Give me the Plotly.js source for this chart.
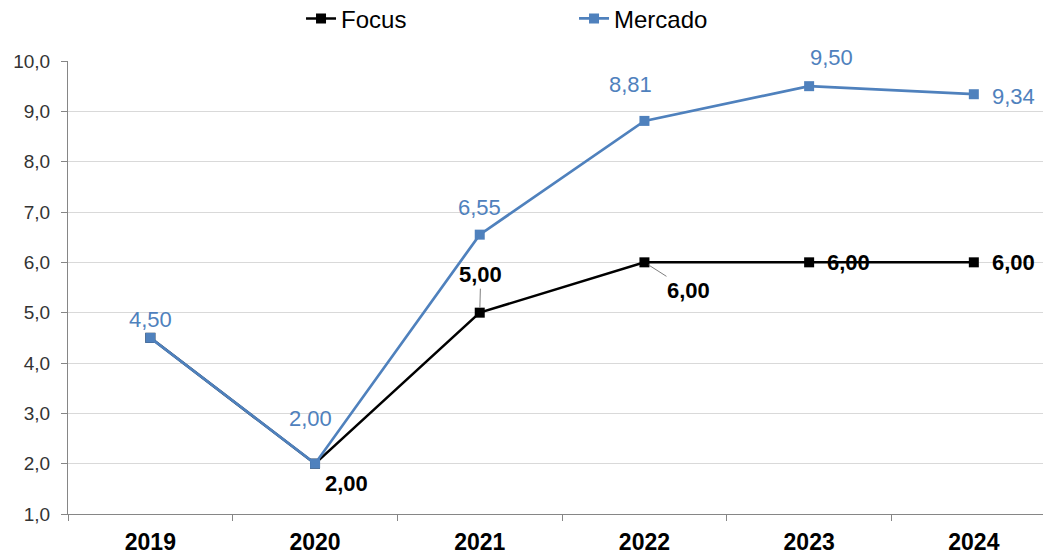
<!DOCTYPE html>
<html>
<head>
<meta charset="utf-8">
<script src="https://cdn.plot.ly/plotly-3.0.1.min.js"></script>
<style>html,body{margin:0;padding:0;background:#fff;}#chart{width:1043px;height:554px;}</style>
</head>
<body>
<div id="chart"></div>
<script>
const years = ['2019', '2020', '2021', '2022', '2023', '2024'];
const focus = [4.50, 2.00, 5.00, 6.00, 6.00, 6.00];
const mercado = [4.50, 2.00, 6.55, 8.81, 9.50, 9.34];
const yTicks = [1, 2, 3, 4, 5, 6, 7, 8, 9, 10];

const BLUE = '#4F81BD';
const FONT = 'Liberation Sans, Arial, sans-serif';

function fmt(v) { return v.toFixed(2).replace('.', ','); }

const traces = [
  {
    x: years, y: focus, name: 'Focus', type: 'scatter', mode: 'lines+markers',
    line: {color: '#000000', width: 2.5},
    marker: {symbol: 'square', size: 10, color: '#000000'}
  },
  {
    x: years, y: mercado, name: 'Mercado', type: 'scatter', mode: 'lines+markers',
    line: {color: BLUE, width: 2.7},
    marker: {symbol: 'square', size: 10, color: BLUE}
  }
];

// label offsets (pixels) per point
const mercadoOff = [[0, 18], [-5, 45], [0, 27], [-14, 36], [22, 29], [40, -2]];
const focusOff = [null, [31, -20], null, null, [39, 0], [40, 0]];

// category axis: annotations are placed by category index
const annotations = [];
mercado.forEach((v, i) => {
  const o = mercadoOff[i];
  annotations.push({
    x: years.indexOf(years[i]), y: v, xref: 'x', yref: 'y', text: fmt(v), showarrow: false,
    xshift: o[0], yshift: o[1],
    font: {family: FONT, size: 22, color: BLUE}
  });
});
focus.forEach((v, i) => {
  const o = focusOff[i];
  if (!o) return;
  annotations.push({
    x: years.indexOf(years[i]), y: v, xref: 'x', yref: 'y', text: '<b>' + fmt(v) + '</b>', showarrow: false,
    xshift: o[0], yshift: o[1],
    font: {family: FONT, size: 22, color: '#000000'}
  });
});
// labels with leader lines
annotations.push({
  x: 2, y: focus[2], xref: 'x', yref: 'y', text: '<b>' + fmt(focus[2]) + '</b>',
  showarrow: true, arrowhead: 0, arrowwidth: 1, arrowcolor: '#7f7f7f', standoff: 5,
  ax: 1, ay: -38, font: {family: FONT, size: 22, color: '#000000'}
});
annotations.push({
  x: 3, y: focus[3], xref: 'x', yref: 'y', text: '<b>' + fmt(focus[3]) + '</b>',
  showarrow: true, arrowhead: 0, arrowwidth: 1, arrowcolor: '#7f7f7f', standoff: 5,
  ax: 44, ay: 28, font: {family: FONT, size: 22, color: '#000000'}
});

const layout = {
  width: 1043, height: 554,
  margin: {l: 68, r: 0, t: 61, b: 40, autoexpand: false},
  paper_bgcolor: '#ffffff', plot_bgcolor: '#ffffff',
  separators: ',.',
  font: {family: FONT, color: '#333333'},
  showlegend: true,
  legend: {
    orientation: 'h', xref: 'paper', x: 0.239, xanchor: 'left',
    yref: 'container', y: 0.966, yanchor: 'middle',
    font: {family: FONT, size: 24, color: '#000000'},
    entrywidth: 228, entrywidthmode: 'pixels'
  },
  xaxis: {
    type: 'category', range: [-0.5, 5.42],
    showgrid: false, zeroline: false,
    showline: true, linecolor: '#868686', linewidth: 1,
    ticks: 'outside', tickson: 'boundaries', ticklen: 6, tickcolor: '#868686',
    ticklabelstandoff: 7,
    tickfont: {family: FONT, size: 23, color: '#000000', weight: 'bold'},
    fixedrange: true
  },
  yaxis: {
    range: [1, 10], tickvals: yTicks, tickformat: '.1f',
    showgrid: true, gridcolor: '#d9d9d9', gridwidth: 1, zeroline: false,
    showline: true, linecolor: '#868686', linewidth: 1,
    ticks: 'outside', ticklen: 6, tickcolor: '#868686',
    ticklabelstandoff: 7,
    tickfont: {family: FONT, size: 19, color: '#333333'},
    fixedrange: true
  },
  annotations: annotations
};

Plotly.newPlot('chart', traces, layout, {displayModeBar: false, staticPlot: true});
</script>
</body>
</html>
